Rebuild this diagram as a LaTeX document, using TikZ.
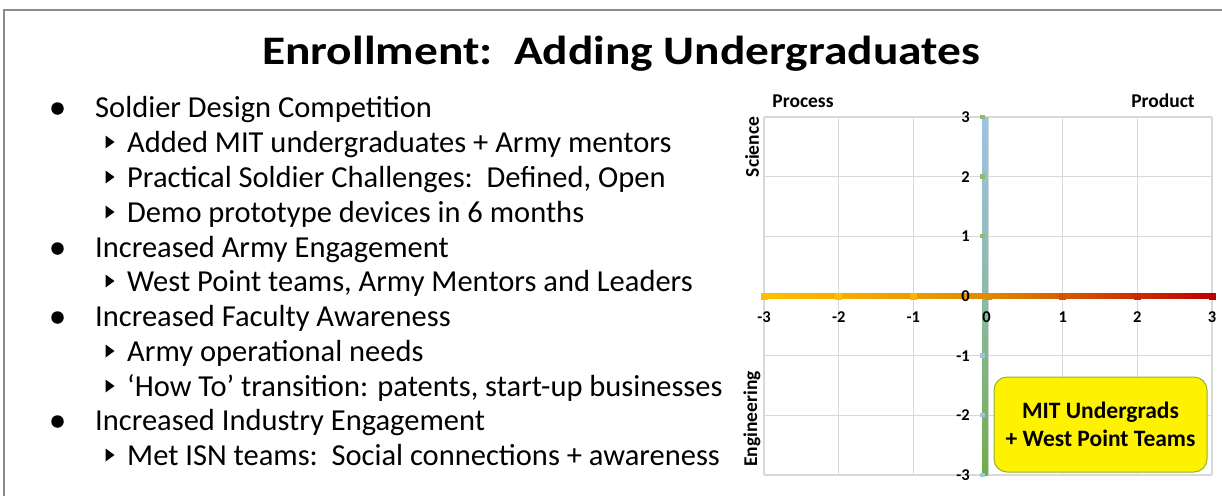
\documentclass[tikz,border=0pt]{standalone}
\usepackage{fontspec}
\setmainfont{Carlito}
\usetikzlibrary{shapes.geometric}
\definecolor{gridc}{HTML}{D9D9D9}
\definecolor{frame}{HTML}{8C8C8C}
\definecolor{ax1}{HTML}{FFC000}
\definecolor{ax2}{HTML}{E08A00}
\definecolor{ax3}{HTML}{C00000}
\definecolor{vblue}{HTML}{9DC3E6}
\definecolor{vgreen}{HTML}{70AD47}
\definecolor{boxborder}{HTML}{8DB33A}
\tikzset{
  bodytext/.style={anchor=base west, inner sep=0pt, font=\fontsize{30.5}{34}\selectfont},
  ticklab/.style={inner sep=0pt, font=\fontsize{16.5}{18}\selectfont\bfseries},
  axlab/.style={inner sep=0pt, font=\fontsize{19.5}{22}\selectfont\bfseries},
  bulletdot/.style={circle, fill=black, inner sep=0pt, minimum size=12.5pt},
  subarrow/.style={fill=black},
}
\begin{document}
\begin{tikzpicture}[x=1pt,y=-1pt]
\useasboundingbox (0,0) rectangle (1222,496);
% slide frame
\draw[frame, line width=1.5pt] (4,496) -- (4,10) -- (1222,10);
% title
\node[anchor=base, inner sep=0pt, font=\fontsize{40.5}{44}\selectfont\bfseries] (title) at (621,64) {\scalebox{1.17}[1]{Enrollment:\ \ Adding Undergraduates}};
% bullets
\foreach \y/\t/\lvl [count=\i] in {
 117/{Soldier Design Competition}/0,
 152/{Added MIT undergraduates + Army mentors}/1,
 187/{Practical Soldier Challenges:\ \ Defined, Open}/1,
 222/{Demo prototype devices in 6 months}/1,
 257/{Increased Army Engagement}/0,
 291/{West Point teams, Army Mentors and Leaders}/1,
 326/{Increased Faculty Awareness}/0,
 361/{Army operational needs}/1,
 396/{‘How To’ transition: patents, start-up businesses}/1,
 430/{Increased Industry Engagement}/0,
 465/{Met ISN teams:\ \ Social connections + awareness}/1}{
  \ifnum\lvl=0
    \node[bulletdot] (b\i) at (57.5,\y-8.5) {};
    \node[bodytext] (t\i) at (95,\y) {\t};
  \else
    \fill[subarrow] (105.5,\y-16.5) -- (114.5,\y-10) -- (105.5,\y-3.5) -- cycle;
    \node[bodytext] (t\i) at (127,\y) {\t};
  \fi
}
% chart grid
\foreach \x in {764,838.7,913.3,988,1062.7,1137.3,1212}
  \draw[gridc, line width=1.3pt] (\x,117) -- (\x,475);
\foreach \y in {117,176.7,236.3,296,355.7,415.3,475}
  \draw[gridc, line width=1.3pt] (764,\y) -- (1212,\y);
% vertical series line
\shade[top color=vblue, bottom color=vgreen, middle color=vblue!60!vgreen] (982.5,117) rectangle (988,475);
\foreach \y in {117,176.7,236.3}
  \fill[vgreen!80] (980,\y-2.5) rectangle (984.5,\y+2);
\foreach \y in {355.7,415.3,475}
  \fill[vblue] (980,\y-2.5) rectangle (984.5,\y+2);
% horizontal series line
\shade[left color=ax1, right color=ax3, middle color=ax2] (764,293) rectangle (1212,298.5);
\foreach \x/\c in {764/ax1,838.7/ax1,913.3/ax1!80!ax2,988/ax2,1062.7/ax2!60!ax3,1137.3/ax2!30!ax3,1212/ax3}
  \fill[\c] (\x-3.5,292.5) rectangle (\x+3.5,299.5);
% y tick labels
\foreach \y/\l in {117/3,176.7/2,236.3/1,296/0,355.7/-1,415.3/-2,475/-3}
  \node[ticklab, anchor=east] (yl\l) at (970,\y) {\l};
% x tick labels
\foreach \x/\l in {764/-3,838.7/-2,913.3/-1,986.5/0,1062.7/1,1137.3/2,1212/3}
  \node[ticklab] (xl\l) at (\x,317) {\l};
% axis titles
\node[axlab] (process) at (803,101) {Process};
\node[axlab] (product) at (1163,101) {Product};
\node[axlab, rotate=90] (science) at (752,147) {Science};
\node[axlab, rotate=90] (engineering) at (752,419) {Engineering};
% callout box
\node[draw=boxborder, line width=1pt, fill=yellow, rounded corners=13pt,
      minimum width=213pt, minimum height=95pt, align=center,
      font=\fontsize{23.5}{28}\selectfont\bfseries] (callout) at (1100.5,424.5)
      {MIT Undergrads\\+ West Point Teams};
\end{tikzpicture}
\end{document}
